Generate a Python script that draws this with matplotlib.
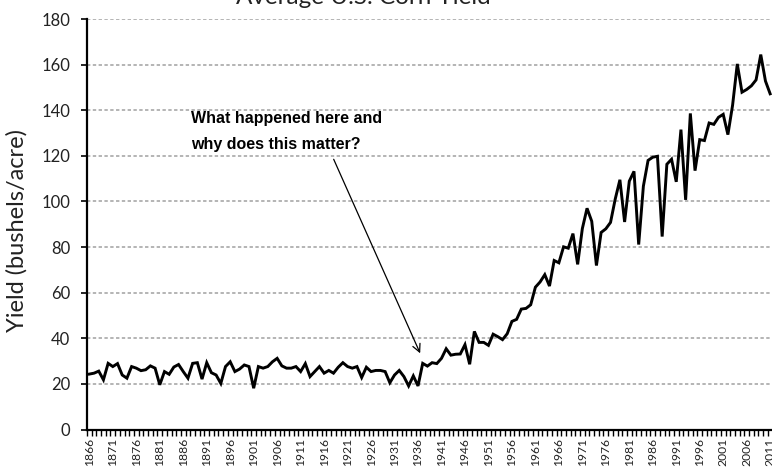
import numpy as np
import matplotlib
matplotlib.use('Agg')
import matplotlib.pyplot as plt
from matplotlib.ticker import FixedLocator

plt.rcParams['font.family'] = ['Lato', 'DejaVu Sans']

# 年份与产量 (bushels/acre)
years = list(range(1866, 2012))
yields = [
    24.3, 24.7, 25.6, 21.8, 29.0, 27.6, 28.9, 23.9, 22.5, 27.6,   # 1866-1875
    26.9, 25.8, 26.2, 27.9, 26.9, 19.6, 25.4, 24.2, 27.4, 28.5,   # 1876-1885
    25.4, 22.5, 29.0, 29.3, 22.1, 29.3, 24.9, 23.9, 20.2, 27.6,   # 1886-1895
    29.7, 25.4, 26.5, 28.3, 27.6, 18.1, 27.6, 26.9, 27.6, 29.7,   # 1896-1905
    31.2, 27.9, 26.9, 26.9, 27.6, 25.4, 28.9, 23.2, 25.4, 27.6,   # 1906-1915
    24.7, 25.9, 24.7, 27.3, 29.3, 27.6, 26.9, 27.6, 22.8, 27.3,   # 1916-1925
    25.4, 25.9, 25.9, 25.4, 20.5, 23.9, 25.9, 23.2, 19.1, 23.5,   # 1926-1935
    19.1, 29.0, 27.8, 29.3, 28.9, 31.2, 35.4, 32.6, 33.0, 33.1,   # 1936-1945
    37.2, 28.6, 43.0, 38.2, 38.2, 36.9, 41.8, 40.7, 39.4, 42.0,   # 1946-1955
    47.4, 48.3, 52.8, 53.1, 54.7, 62.4, 64.7, 67.9, 62.9, 74.1,   # 1956-1965
    73.1, 80.1, 79.5, 85.9, 72.4, 88.1, 97.0, 91.3, 71.9, 86.4,   # 1966-1975
    88.0, 90.8, 101.0, 109.5, 91.0, 108.9, 113.2, 81.1, 106.7, 118.0,  # 1976-1985
    119.4, 119.8, 84.6, 116.3, 118.5, 108.6, 131.5, 100.7, 138.6, 113.5,  # 1986-1995
    127.1, 126.7, 134.4, 133.8, 136.9, 138.2, 129.3, 142.2, 160.3, 147.9,  # 1996-2005
    149.1, 150.7, 153.3, 164.4, 152.8, 147.2,                           # 2006-2011
]
y_ticks = list(range(0, 181, 20))
title = 'Average U.S. Corn Yield'
ylabel = 'Yield (bushels/acre)'
note = 'What happened here and\nwhy does this matter?'

W, H = 772, 469
fig = plt.figure(figsize=(W / 100, H / 100), dpi=100)
ax = fig.add_axes([87 / W, (H - 429.5) / H, 685.5 / W, 410.5 / H])

x = np.arange(len(years))
ax.plot(x, yields, color='black', lw=2.1, solid_joinstyle='miter', zorder=3)

ax.set_xlim(-0.5, len(years) - 0.5)
ax.set_ylim(0, 180)

# 网格线
for v in y_ticks[1:]:
    ax.axhline(v, color='#a0a0a0', lw=1.1, ls=(0, (2.2, 1.6)), zorder=1)

ax.set_yticks(y_ticks)
ax.tick_params(axis='y', direction='out', length=4, width=1.2, labelsize=12,
               labelcolor='#222222', pad=8)

lab_idx = x[::5]
ax.xaxis.set_major_locator(FixedLocator(lab_idx))
ax.set_xticklabels([str(years[i]) for i in lab_idx], rotation=90)
ax.xaxis.set_minor_locator(FixedLocator(np.arange(-0.5, len(years), 1.0)))
ax.tick_params(axis='x', which='major', length=0, labelsize=8.7,
               labelcolor='#222222', pad=6)
ax.tick_params(axis='x', which='minor', direction='out', length=4, width=1.0)

for s in ['top', 'right']:
    ax.spines[s].set_visible(False)
for s in ['left', 'bottom']:
    ax.spines[s].set_linewidth(1.6)

ax.set_ylabel(ylabel, fontsize=17, color='#222222', va='center')
ax.yaxis.set_label_coords(-0.103, 0.485)

fig.text(363 / W, 1 - 3.5 / H, title, ha='center', va='baseline', fontsize=17.5,
         color='#222222')

# 注释
ax.text(21.6, 130.6, note, ha='left', va='center', fontsize=11.5,
        fontweight='bold', family=['Liberation Sans', 'DejaVu Sans'],
        linespacing=1.95)
ax.annotate('', xy=(70.7, 32.3), xytext=(51.8, 119.6),
            arrowprops=dict(arrowstyle='->', color='black', lw=0.9,
                            mutation_scale=14))

fig.savefig('out.png', dpi=100)
